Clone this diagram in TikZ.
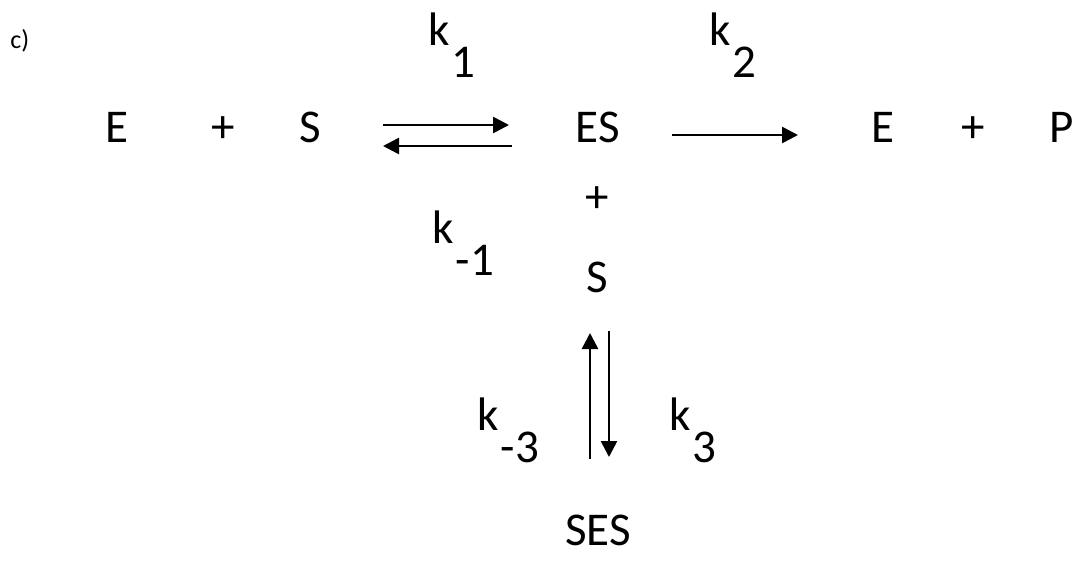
\documentclass[tikz,border=0pt]{standalone}
\usepackage{fontspec}
\setmainfont{Carlito}
\usetikzlibrary{arrows.meta}
\newcommand{\rate}[1]{k\hspace{0.04em}\raisebox{-16pt}{#1}}

\begin{document}
\begin{tikzpicture}[
    x=0.5pt, y=-0.5pt,
    sp/.style={font=\fontsize{23.5}{28}\selectfont, inner sep=0pt, anchor=base},
    kk/.style={font=\fontsize{23.5}{28}\selectfont, inner sep=0pt, anchor=base west},
    ar/.style={-{Triangle[length=8pt, width=8pt]}, line width=1.3pt}
]
\useasboundingbox (0,0) rectangle (1076,563);
\node[font=\fontsize{13}{15}\selectfont, inner sep=0pt, anchor=base west] (lab) at (10,48) {c)};
% species
\node[sp] (e1) at (117,142) {E};
\node[sp] (p1) at (223,142) {+};
\node[sp] (s1) at (310,142) {S};
\node[sp] (es) at (598,142) {ES};
\node[sp] (e2) at (883,142) {E};
\node[sp] (p2) at (973,142) {+};
\node[sp] (pr) at (1062,142) {P};
\node[sp] (p3) at (597,212) {+};
\node[sp] (s2) at (597,292) {S};
\node[sp] (ses) at (598,545) {SES};
% rate constants
\node[kk] (k1) at (428,45) {\rate{1}};
\node[kk] (km1) at (432,243) {\rate{-1}};
\node[kk] (k2) at (709,45) {\rate{2}};
\node[kk] (km3) at (477,430) {\rate{-3}};
\node[kk] (k3) at (669,430) {\rate{3}};
% arrow ends
\coordinate (fa) at (383,125);
\coordinate (fb) at (509,125);
\coordinate (ba) at (512,146);
\coordinate (bb) at (383,146);
\coordinate (ra) at (672,135);
\coordinate (rb) at (798,135);
\coordinate (ua) at (590,459);
\coordinate (ub) at (590,333);
\coordinate (da) at (609,331);
\coordinate (db) at (609,457);
\draw[ar] (fa) -- (fb);
\draw[ar] (ba) -- (bb);
\draw[ar] (ra) -- (rb);
\draw[ar] (ua) -- (ub);
\draw[ar] (da) -- (db);
\end{tikzpicture}
\end{document}
